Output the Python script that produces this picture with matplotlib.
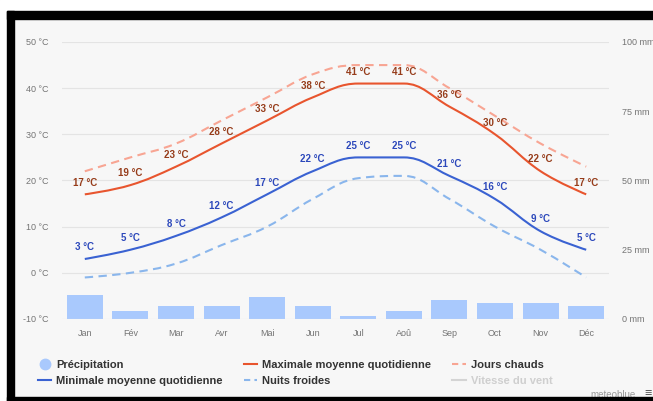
import matplotlib
matplotlib.use("Agg")
import matplotlib.pyplot as plt
from matplotlib.path import Path
from matplotlib.patches import PathPatch, Rectangle
from matplotlib.lines import Line2D

mois = ["Jan", "Fév", "Mar", "Avr", "Mai", "Jun", "Jul", "Aoû", "Sep", "Oct", "Nov", "Déc"]
temp_max = [17, 19, 23, 28, 33, 38, 41, 41, 36, 30, 22, 17]
temp_min = [3, 5, 8, 12, 17, 22, 25, 25, 21, 16, 9, 5]
jours_chauds = [22, 25, 28, 33, 38, 43, 45, 45, 40, 34, 28, 23]
nuits_froides = [-1, 0, 2, 6, 10, 16, 20.5, 21, 16, 10, 5, -1]
precipitation = [8.7, 2.9, 4.8, 4.8, 8.0, 4.8, 1.1, 3.0, 6.9, 5.9, 5.9, 4.8]
ticks_temp = [-10, 0, 10, 20, 30, 40, 50]
ticks_mm = [0, 25, 50, 75, 100]

C_MAX = "#e8552e"
C_MIN = "#3a62d2"
C_CHAUD = "#f8a593"
C_FROID = "#8ab6ec"
C_BARRE = "#a9c9fd"
C_TEXTE = "#747474"


def spline(xs, ys, smoothing=1.5):
    # courbe lissée façon Highcharts (bezier cubique)
    n = len(xs)
    right = [None] * n
    left = [None] * n
    denom = smoothing + 1
    for i in range(1, n - 1):
        px, py = xs[i], ys[i]
        lx, ly = xs[i - 1], ys[i - 1]
        nx, ny = xs[i + 1], ys[i + 1]
        lcx = (smoothing * px + lx) / denom
        lcy = (smoothing * py + ly) / denom
        rcx = (smoothing * px + nx) / denom
        rcy = (smoothing * py + ny) / denom
        corr = 0
        if rcx != lcx:
            corr = (rcy - lcy) * (rcx - px) / (rcx - lcx) + py - rcy
        lcy += corr
        rcy += corr
        if lcy > ly and lcy > py:
            lcy = max(ly, py)
            rcy = 2 * py - lcy
        elif lcy < ly and lcy < py:
            lcy = min(ly, py)
            rcy = 2 * py - lcy
        if rcy > ny and rcy > py:
            rcy = max(ny, py)
            lcy = 2 * py - rcy
        elif rcy < ny and rcy < py:
            rcy = min(ny, py)
            lcy = 2 * py - rcy
        left[i] = (lcx, lcy)
        right[i] = (rcx, rcy)
    verts = [(xs[0], ys[0])]
    codes = [Path.MOVETO]
    for i in range(1, n):
        c1 = right[i - 1] if right[i - 1] else (xs[i - 1], ys[i - 1])
        c2 = left[i] if left[i] else (xs[i], ys[i])
        verts += [c1, c2, (xs[i], ys[i])]
        codes += [Path.CURVE4] * 3
    return Path(verts, codes)


plt.rcParams['font.family'] = ['Liberation Sans', 'DejaVu Sans']

fig = plt.figure(figsize=(6.53, 4.01), dpi=100, facecolor="#f7f7f7")
W, H = 653, 401

# cadre noir / bords blancs
fig.add_artist(Rectangle((0, 1 - 11 / H), 1, 11 / H, transform=fig.transFigure, color="white", zorder=0))
fig.add_artist(Rectangle((0, 0), 7 / W, 1, transform=fig.transFigure, color="white", zorder=0))
fig.add_artist(Rectangle((7 / W, 1 - 19 / H), 1, 8 / H, transform=fig.transFigure, color="black", zorder=5))
fig.add_artist(Rectangle((7 / W, 0), 7 / W, 1 - 11 / H, transform=fig.transFigure, color="black", zorder=5))
fig.add_artist(Rectangle((7 / W, 0), 1, 4 / H, transform=fig.transFigure, color="black", zorder=5))

ax = fig.add_axes([62 / W, (H - 319) / H, 547 / W, 277 / H])
ax2 = ax.twinx()
ax.set_zorder(ax2.get_zorder() + 1)
ax.patch.set_visible(False)
ax2.patch.set_visible(False)

x = list(range(len(mois)))
ax2.bar(x, precipitation, width=0.79, color=C_BARRE, zorder=2)
ax2.set_ylim(0, 100)
ax2.set_yticks(ticks_mm)
ax2.set_yticklabels([f"{v} mm" for v in ticks_mm])

for serie, couleur, style in [(jours_chauds, C_CHAUD, (0, (4, 2.6))),
                              (nuits_froides, C_FROID, (0, (4, 2.6))),
                              (temp_max, C_MAX, "-"),
                              (temp_min, C_MIN, "-")]:
    ax.add_patch(PathPatch(spline(x, serie), facecolor="none", edgecolor=couleur,
                           lw=1.5, linestyle=style, capstyle="butt", zorder=3))

for serie, couleur in [(temp_max, "#963c1a"), (temp_min, "#2c48bb")]:
    for xi, v in zip(x, serie):
        ax.annotate(f"{v} °C", (xi, v), xytext=(0, 8.5), textcoords="offset points",
                    ha="center", va="center", fontsize=7, fontweight="bold",
                    color=couleur, zorder=4)

ax.set_xlim(-0.5, len(mois) - 0.5)
ax.set_ylim(-10, 50)
ax.set_yticks(ticks_temp)
ax.set_yticklabels([f"{v} °C" for v in ticks_temp])
ax.set_xticks(x)
ax.set_xticklabels(mois)
ax.grid(axis="y", color="#e4e4e4", lw=0.8)
ax.set_axisbelow(True)

for a in (ax, ax2):
    for s in a.spines.values():
        s.set_visible(False)
ax.tick_params(axis="y", length=0, pad=10, labelsize=6.5, labelcolor=C_TEXTE)
ax.tick_params(axis="x", length=0, pad=7, labelsize=6.5, labelcolor=C_TEXTE)
ax2.tick_params(axis="y", length=0, pad=9, labelsize=6.5, labelcolor=C_TEXTE)

poignees = [
    Line2D([], [], marker="o", ls="none", markersize=7.5, color=C_BARRE),
    Line2D([], [], color=C_MIN, lw=1.5),
    Line2D([], [], color=C_MAX, lw=1.5),
    Line2D([], [], color=C_FROID, lw=1.5, ls=(0, (3, 2))),
    Line2D([], [], color=C_CHAUD, lw=1.5, ls=(0, (3, 2))),
    Line2D([], [], color="#d4d4d4", lw=1.5),
]
noms = ["Précipitation", "Minimale moyenne quotidienne", "Maximale moyenne quotidienne",
        "Nuits froides", "Jours chauds", "Vitesse du vent"]
leg = fig.legend(poignees, noms, ncol=3, loc="upper left", bbox_to_anchor=(38 / W, 1 - 360 / H),
                 frameon=False, prop={"weight": "bold", "size": 8},
                 handlelength=1.2, handletextpad=0.45, columnspacing=1.9, labelspacing=0.55,
                 borderpad=0, borderaxespad=0)
for t in leg.get_texts():
    t.set_color("#333333")
leg.get_texts()[-1].set_color("#cfcfcf")

fig.text(636 / W, 1 - 395 / H, "meteoblue", ha="right", va="center", fontsize=7, color="#9a9a9a")
fig.text(648 / W, 1 - 394 / H, "≡", ha="center", va="center", fontsize=9, color="#555555")

fig.savefig("out.png", dpi=100, facecolor=fig.get_facecolor())
